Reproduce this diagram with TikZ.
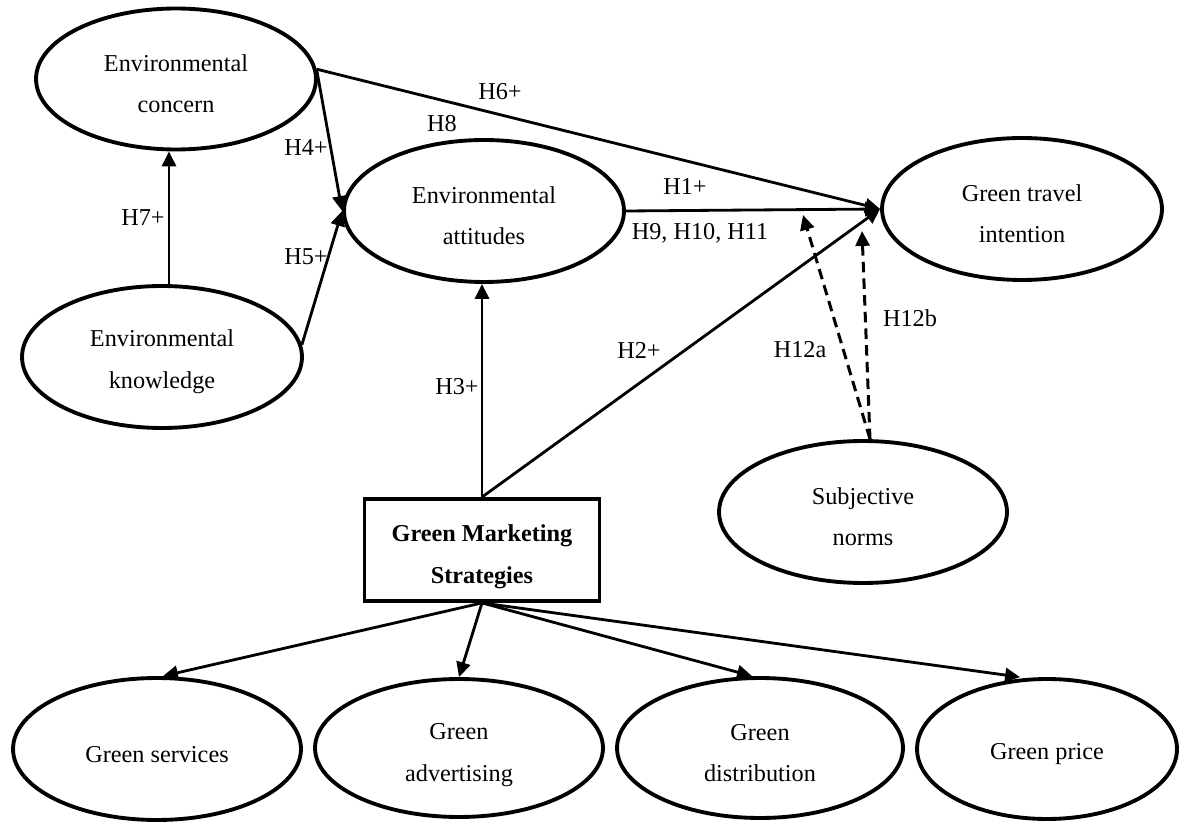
\documentclass[tikz,border=0pt]{standalone}
\usepackage{fontspec}
\setmainfont{Liberation Serif}
\usetikzlibrary{arrows.meta,shapes.geometric}
\newcommand\lowtxt{\rule{0pt}{15pt}}
\begin{document}
\begin{tikzpicture}[x=0.02cm,y=-0.02cm,
  lat/.style={ellipse,draw,line width=2.2pt,inner sep=0pt,align=center,font=\fontsize{13.8}{23.8}\selectfont},
  box/.style={rectangle,draw,line width=2.2pt,inner sep=0pt,align=center,minimum width=4.7cm,minimum height=2.04cm,font=\fontsize{13.8}{23.8}\selectfont\bfseries},
  arr/.style={line width=1.6pt,-{Triangle[length=8.5pt,width=8pt]}},
  darr/.style={arr,line width=1.7pt,dash pattern=on 6pt off 3.5pt},
  lbl/.style={font=\fontsize{13.8}{16}\selectfont,inner sep=1pt}]
\useasboundingbox (0,0) rectangle (1190,837);

% nodes
\node[lat,minimum width=5.6cm,minimum height=2.82cm] (conc) at (176,79) {\lowtxt Environmental\\concern};
\node[lat,minimum width=5.6cm,minimum height=2.84cm] (know) at (162,357) {\lowtxt Environmental\\knowledge};
\node[lat,minimum width=5.6cm,minimum height=2.84cm] (att) at (484,211) {\lowtxt Environmental\\attitudes};
\node[lat,minimum width=5.6cm,minimum height=2.84cm] (gti) at (1022,209) {\lowtxt Green travel\\intention};
\node[lat,minimum width=5.76cm,minimum height=2.84cm] (sn) at (863,512) {\lowtxt Subjective\\norms};
\node[box] (gms) at (482,550) {\rule{0pt}{17pt}Green Marketing\\Strategies};
\node[lat,minimum width=5.76cm,minimum height=2.84cm] (gs) at (157,749) {\lowtxt Green services};
\node[lat,minimum width=5.76cm,minimum height=2.76cm] (ga) at (459,748) {\rule{0pt}{17pt}Green\\advertising};
\node[lat,minimum width=5.72cm,minimum height=2.8cm] (gd) at (760,748) {\lowtxt Green\\distribution};
\node[lat,minimum width=5.2cm,minimum height=2.8cm] (gp) at (1047,749) {\lowtxt Green price};

% connectors
\coordinate (p7) at (169,0);
\draw[arr] (p7 |- know.north) -- (p7 |- conc.south);
\draw[arr] (conc.4) -- (att.west);
\draw[arr] (know.5) -- (att.west);
\draw[arr] (conc.4) -- (gti.west);
\draw[arr] (att.east) -- (gti.west);
\draw[arr] (gms.north) -- (gti.west);
\draw[arr] (gms.north) -- (gms.north |- att.south);
\coordinate (p12a) at (803,215);
\coordinate (p12b) at (862,231);
\draw[darr] ([xshift=0.14cm]sn.north) -- (p12a);
\draw[darr] ([xshift=0.14cm]sn.north) -- (p12b);
\draw[arr] (gms.south) -- ([xshift=0.12cm]gs.north);
\draw[arr] (gms.south) -- (ga.north);
\draw[arr] (gms.south) -- ([xshift=-0.16cm]gd.north);
\draw[arr] (gms.south) -- ([xshift=-0.54cm]gp.north);

% labels
\node[lbl] (l7) at (143,218) {H7+};
\node[lbl] (l4) at (306,148) {H4+};
\node[lbl] (l5) at (306,257) {H5+};
\node[lbl] (l6) at (500,92) {H6+};
\node[lbl] (l8) at (442,124) {H8};
\node[lbl] (l1) at (685,187) {H1+};
\node[lbl] (l9) at (700,233) {H9, H10, H11};
\node[lbl] (l2) at (639,350) {H2+};
\node[lbl] (l3) at (457,387) {H3+};
\node[lbl] (l12a) at (800,350) {H12a};
\node[lbl] (l12b) at (910,318) {H12b};
\end{tikzpicture}
\end{document}
